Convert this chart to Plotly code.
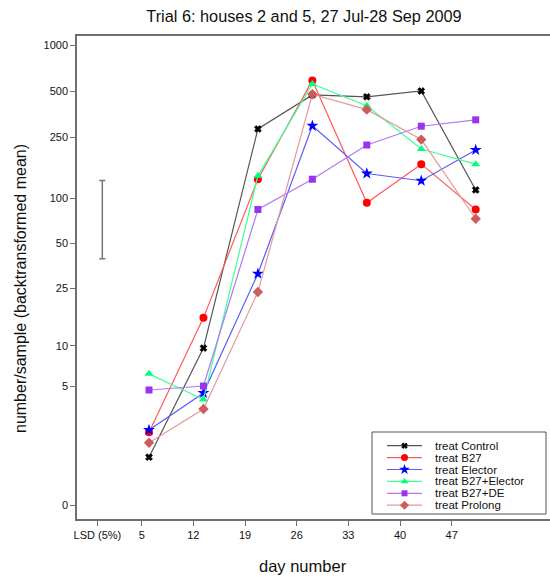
import numpy as np
import plotly.graph_objects as go

# ---- data -------------------------------------------------------------
days = [5, 12, 19, 26, 33, 40, 47]

control = [1.06, 9.6, 284, 474, 461, 503, 113]
b27 = [2.0, 15.7, 133, 590, 93, 167, 84]
elector = [2.1, 4.4, 31.4, 298, 145, 130, 207]
b27_elector = [6.2, 3.9, 140, 560, 403, 210, 167]
b27_de = [4.65, 5.0, 84, 133, 223, 296, 326]
prolong = [1.56, 3.25, 23.6, 479, 380, 242, 73]

series_names = ["treat Control", "treat B27", "treat Elector",
                "treat B27+Elector", "treat B27+DE", "treat Prolong"]
series_values = [control, b27, elector, b27_elector, b27_de, prolong]

# LSD (5%) on the log10(y+1) scale, and where its bar is drawn
lsd_day = -1
lsd_width = 0.51
lsd_centre = 1.863

y_tick_values = [0, 5, 10, 25, 50, 100, 250, 500, 1000]
x_tick_days = [-1, 5, 12, 19, 26, 33, 40, 47]
x_tick_labels = ["LSD (5%)", "5", "12", "19", "26", "33", "40", "47"]

# ---- styles -----------------------------------------------------------
marker_colors = ["#000000", "#ff0000", "#0000ff", "#00ff7f", "#9933ee", "#cd5c5c"]
line_colors = ["#555555", "#ff5a5a", "#5a5aff", "#40ff9a", "#b378f2", "#e49a9a"]
symbols = ["x", "circle", "star", "triangle-up", "square", "diamond"]
sizes = [6, 8, 9, 8, 7, 8]

FONT = "Arial, Liberation Sans, sans-serif"
AXIS_GREY = "#6e6e6e"

W, H = 550, 577
L, R, T, B = 77, 0, 36, 58
plot_w = W - L - R
plot_h = H - T - B


def tr(v):
    """Back-transform scale used on the y axis: log10(v + 1)."""
    return np.log10(np.asarray(v, dtype=float) + 1.0)


def px_to_paper(px, py):
    return (px - L) / plot_w, (H - B - py) / plot_h


def marker_style(sym, sz, mc):
    return dict(symbol=sym, size=sz, color=mc,
                line=dict(width=0.8 if sym == "x" else 0, color=mc))


fig = go.Figure()

for name, vals, mc, lc, sym, sz in zip(series_names, series_values, marker_colors,
                                         line_colors, symbols, sizes):
    fig.add_trace(go.Scatter(
        x=days, y=tr(vals), mode="lines+markers", name=name,
        line=dict(color=lc, width=1.2),
        marker=marker_style(sym, sz, mc),
        showlegend=False, xaxis="x", yaxis="y",
    ))

# LSD bar
fig.add_trace(go.Scatter(
    x=[lsd_day], y=[lsd_centre], mode="markers",
    marker=dict(size=1, color="rgba(0,0,0,0)"),
    error_y=dict(type="data", array=[lsd_width / 2], color="#777777",
                 thickness=1.5, width=3),
    showlegend=False, hoverinfo="skip", xaxis="x", yaxis="y",
))

# tick axis carries the day labels; keep a placeholder trace on it
fig.add_trace(go.Scatter(
    x=[x_tick_days[0]], y=[0], mode="markers", marker=dict(opacity=0),
    showlegend=False, hoverinfo="skip", xaxis="x2", yaxis="y",
))

# ---- hand-built legend ------------------------------------------------
box_px = (372, 432, 546, 514)  # left, top, right, bottom
bx0, by0 = px_to_paper(box_px[0], box_px[3])
bx1, by1 = px_to_paper(box_px[2], box_px[1])
box_w = box_px[2] - box_px[0]
box_h = box_px[3] - box_px[1]
row0, row_step = 13.7, 11.9
sample_x0, sample_x1, text_x = 15, 50, 61

for i, (name, mc, lc, sym, sz) in enumerate(zip(series_names, marker_colors,
                                                line_colors, symbols, sizes)):
    ry = row0 + i * row_step
    fig.add_trace(go.Scatter(
        x=[sample_x0, sample_x1], y=[ry, ry], mode="lines",
        line=dict(color=lc, width=1.2), showlegend=False, hoverinfo="skip",
        xaxis="x3", yaxis="y3",
    ))
    fig.add_trace(go.Scatter(
        x=[(sample_x0 + sample_x1) / 2], y=[ry], mode="markers",
        marker=marker_style(sym, sz - 1, mc),
        showlegend=False, hoverinfo="skip", xaxis="x3", yaxis="y3",
    ))
    fig.add_annotation(x=text_x, y=ry, xref="x3", yref="y3", text=name,
                       showarrow=False, xanchor="left", yanchor="middle",
                       font=dict(family=FONT, size=11.5, color="#111111"))

fig.add_shape(type="rect", xref="paper", yref="paper",
              x0=bx0, x1=bx1, y0=by0, y1=by1,
              line=dict(color="#555555", width=1), fillcolor="rgba(0,0,0,0)")

# ---- titles -----------------------------------------------------------
ax, ay = px_to_paper(20, 289)
fig.add_annotation(x=ax, y=ay, xref="paper", yref="paper",
                   text="number/sample (backtransformed mean)", textangle=-90,
                   showarrow=False, xanchor="center", yanchor="middle",
                   font=dict(family=FONT, size=16, color="#111111"))
xx, xy = px_to_paper(303, 566)
fig.add_annotation(x=xx, y=xy, xref="paper", yref="paper", text="day number",
                   showarrow=False, xanchor="center", yanchor="middle",
                   font=dict(family=FONT, size=16.5, color="#111111"))

fig.update_layout(
    width=W, height=H,
    margin=dict(l=L, r=R, t=T, b=B, pad=0),
    paper_bgcolor="white", plot_bgcolor="white",
    title=dict(text="Trial 6: houses 2 and 5, 27 Jul-28 Sep 2009",
               x=304 / W, xanchor="center", y=1 - 16 / H, yanchor="middle",
               font=dict(family=FONT, size=16.3, color="#111111")),
    xaxis=dict(range=[-4.256, 56.55], showgrid=False, zeroline=False,
               showticklabels=False, ticks="", showline=True, mirror=True,
               linecolor=AXIS_GREY, linewidth=1.5, fixedrange=True),
    xaxis2=dict(range=[-3.766, 60.32], overlaying="x", anchor="y", side="bottom",
                tickmode="array", tickvals=x_tick_days, ticktext=x_tick_labels,
                ticks="outside", ticklen=6, tickcolor=AXIS_GREY, tickwidth=1.2,
                showgrid=False, zeroline=False, showline=False,
                tickfont=dict(family=FONT, size=11, color="#111111")),
    yaxis=dict(range=[-0.0894, 3.0613], tickmode="array",
               tickvals=tr(y_tick_values).tolist(),
               ticktext=[str(v) for v in y_tick_values],
               ticks="outside", ticklen=5, tickcolor=AXIS_GREY, tickwidth=1.2,
               showgrid=False, zeroline=False, showline=True,
               linecolor=AXIS_GREY, linewidth=1.5,
               tickfont=dict(family=FONT, size=11, color="#111111")),
    xaxis3=dict(domain=[bx0, bx1], range=[0, box_w], anchor="y3", visible=False),
    yaxis3=dict(domain=[by0, by1], range=[box_h, 0], anchor="x3", visible=False),
)

fig.write_html("out.html")
